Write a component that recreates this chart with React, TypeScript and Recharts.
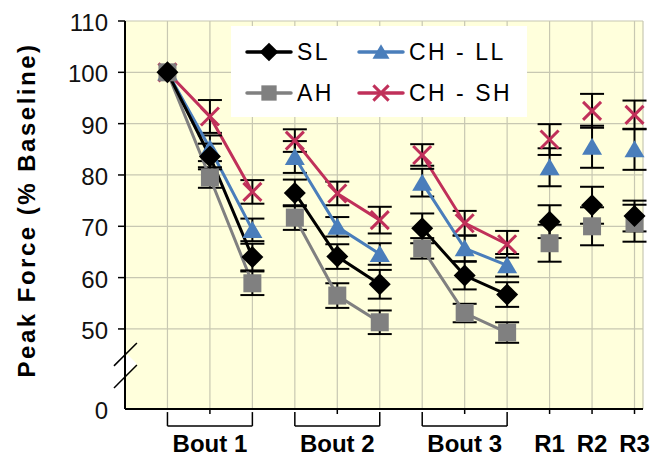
import React from 'react';
import {
  ComposedChart,
  Line,
  XAxis,
  YAxis,
  CartesianGrid,
  ErrorBar,
  ReferenceLine,
  Legend
} from 'recharts';

// x positions 1..12: three points per bout, then three recovery points
const tickLabels = ['', 'Bout 1', '', '', 'Bout 2', '', '', 'Bout 3', '', 'R1', 'R2', 'R3'];
const groups = [1, 1, 1, 2, 2, 2, 3, 3, 3, 4, 5, 6];

const slValues = [100, 83.6, 64.0, 76.5, 64.1, 58.7, 69.6, 60.4, 56.7, 70.9, 74.1, 72.0];
const slErrors = [0, 2.5, 2.6, 2.6, 2.4, 2.8, 2.9, 2.7, 2.4, 3.2, 3.6, 3.0];

const ahValues = [100, 79.5, 58.9, 71.7, 56.5, 51.3, 65.7, 53.1, 49.3, 66.7, 70.0, 70.6];
const ahErrors = [0, 2.0, 2.3, 2.4, 2.4, 2.3, 2.0, 1.8, 2.0, 3.6, 3.7, 3.6];

const llValues = [100, 85.2, 69.3, 83.5, 69.9, 64.6, 78.5, 65.7, 62.4, 81.5, 85.5, 85.0];
const llErrors = [0, 2.5, 2.2, 3.1, 1.9, 2.1, 2.7, 2.5, 2.2, 3.7, 4.1, 4.0];

const shValues = [100, 91.4, 76.7, 86.7, 76.4, 71.2, 83.9, 70.6, 66.5, 86.9, 92.5, 91.7];
const shErrors = [0, 3.2, 2.3, 2.2, 2.3, 2.6, 2.1, 2.4, 2.6, 3.0, 3.3, 2.8];

// value drawn where "0" sits, below the axis break
const Y_ZERO = 34.4;
const yTicks = [Y_ZERO, 50, 60, 70, 80, 90, 100, 110];

type Shape = 'diamond' | 'square' | 'triangle' | 'x';

const series: { key: string; name: string; color: string; shape: Shape; values: number[]; errors: number[] }[] = [
  { key: 'sh', name: 'CH - SH', color: '#C0305A', shape: 'x', values: shValues, errors: shErrors },
  { key: 'll', name: 'CH - LL', color: '#4A7EBB', shape: 'triangle', values: llValues, errors: llErrors },
  { key: 'ah', name: 'AH', color: '#808080', shape: 'square', values: ahValues, errors: ahErrors },
  { key: 'sl', name: 'SL', color: '#000000', shape: 'diamond', values: slValues, errors: slErrors }
];

const FONT = 'Arial, "Liberation Sans", sans-serif';

// gap rows between groups keep the lines from joining
const rows: Record<string, number | null>[] = [];
tickLabels.forEach((_, i) => {
  if (i > 0 && groups[i] !== groups[i - 1]) rows.push({ x: i + 0.5 });
  const row: Record<string, number | null> = { x: i + 1 };
  series.forEach(s => {
    row[s.key] = s.values[i];
    row[s.key + 'Err'] = s.errors[i] ? s.errors[i] : null;
  });
  rows.push(row);
});

const brackets: { start: number; end: number }[] = [];
groups.forEach((g, i) => {
  const last = brackets[brackets.length - 1];
  if (i > 0 && groups[i - 1] === g && last && last.end === i) last.end = i + 1;
  else if (groups.filter(v => v === g).length > 1 && (i === 0 || groups[i - 1] !== g)) brackets.push({ start: i + 1, end: i + 1 });
});

function Marker({ shape, cx, cy, color, scale = 1 }: { shape: Shape; cx: number; cy: number; color: string; scale?: number }) {
  if (cx == null || cy == null || isNaN(cx) || isNaN(cy)) return null;
  if (shape === 'diamond') {
    const h = 11 * scale;
    return <polygon points={`${cx},${cy - h} ${cx + h},${cy} ${cx},${cy + h} ${cx - h},${cy}`} fill={color} />;
  }
  if (shape === 'square') {
    const h = 9 * scale;
    return <rect x={cx - h} y={cy - h} width={h * 2} height={h * 2} fill={color} />;
  }
  if (shape === 'triangle') {
    const w = 10 * scale;
    return <polygon points={`${cx},${cy - 9 * scale} ${cx + w},${cy + 8 * scale} ${cx - w},${cy + 8 * scale}`} fill={color} />;
  }
  const h = 9 * scale;
  return (
    <g stroke={color} strokeWidth={3}>
      <line x1={cx - h} y1={cy - h} x2={cx + h} y2={cy + h} />
      <line x1={cx - h} y1={cy + h} x2={cx + h} y2={cy - h} />
    </g>
  );
}

function BottomTick({ x, y, payload }: any) {
  const label = tickLabels[payload.value - 1];
  if (!label) return <g />;
  return (
    <g>
      <line x1={x} x2={x} y1={y} y2={y + 5} stroke="#000" strokeWidth={1.5} />
      <text x={x} y={y + 43} textAnchor="middle" fontWeight="bold" fontSize={24} fontFamily={FONT} fill="#000">
        {label}
      </text>
    </g>
  );
}

function LeftTick({ x, y, payload }: any) {
  const isZero = payload.value === Y_ZERO;
  return (
    <g>
      {!isZero && <line x1={x - 7} x2={x} y1={y} y2={y} stroke="#000" strokeWidth={1.5} />}
      <text x={x - 17} y={y + 10} textAnchor="end" fontSize={24} fontFamily={FONT} fill="#111">
        {isZero ? '0' : payload.value}
      </text>
    </g>
  );
}

const legendLayout = [
  { key: 'sl', col: 0, row: 0 },
  { key: 'll', col: 1, row: 0 },
  { key: 'ah', col: 0, row: 1 },
  { key: 'sh', col: 1, row: 1 }
];

function LegendBox() {
  return (
    <svg width={296} height={91} style={{ display: 'block' }}>
      <rect x={0} y={0} width={296} height={91} fill="#fff" />
      {legendLayout.map(item => {
        const s = series.find(v => v.key === item.key)!;
        const x0 = item.col === 0 ? 16 : 128;
        const cy = item.row === 0 ? 26 : 67;
        return (
          <g key={item.key}>
            <line x1={x0} x2={x0 + 44} y1={cy} y2={cy} stroke={s.color} strokeWidth={3.5} strokeLinecap="round" />
            <Marker shape={s.shape} cx={x0 + 22} cy={cy} color={s.color} scale={0.85} />
            <text x={x0 + 50} y={cy + 8} fontSize={23} letterSpacing={2.5} fontFamily={FONT} fill="#000">
              {s.name}
            </text>
          </g>
        );
      })}
    </svg>
  );
}

export default function App() {
  return (
    <div style={{ position: 'absolute', left: 0, top: 0 }}>
      <ComposedChart width={651} height={456} data={rows} margin={{ top: 21, right: 8, left: 0, bottom: 0 }}>
        <CartesianGrid fill="#FFFFDC" stroke="#C8C8B2" strokeWidth={1.2} />
        <XAxis
          dataKey="x"
          type="number"
          domain={[0, 12.2]}
          ticks={tickLabels.map((_, i) => i + 1)}
          interval={0}
          height={47}
          tickSize={0}
          tickMargin={0}
          tickLine={false}
          tick={<BottomTick />}
          axisLine={{ stroke: '#000', strokeWidth: 2 }}
        />
        <YAxis
          type="number"
          domain={[Y_ZERO, 110]}
          ticks={yTicks}
          interval={0}
          width={125}
          tickSize={0}
          tickMargin={0}
          tickLine={false}
          tick={<LeftTick />}
          axisLine={{ stroke: '#000', strokeWidth: 2 }}
          label={{
            content: () => (
              <text
                x={35}
                y={210}
                transform="rotate(-90, 35, 210)"
                textAnchor="middle"
                fontWeight="bold"
                fontSize={24}
                letterSpacing={2.5}
                fontFamily={FONT}
                fill="#000"
              >
                Peak Force (% Baseline)
              </text>
            )
          }}
        />
        {/* axis break */}
        <ReferenceLine
          segment={[{ x: -0.21, y: 41.0 }, { x: 0.165, y: 44.15 }]}
          stroke="#fff"
          strokeWidth={13}
          ifOverflow="visible"
        />
        <ReferenceLine
          segment={[{ x: -0.26, y: 42.8 }, { x: 0.28, y: 47.27 }]}
          stroke="#000"
          strokeWidth={1.5}
          ifOverflow="visible"
        />
        <ReferenceLine
          segment={[{ x: -0.26, y: 38.5 }, { x: 0.28, y: 42.98 }]}
          stroke="#000"
          strokeWidth={1.5}
          ifOverflow="visible"
        />
        {/* bout brackets under the axis */}
        {brackets.map(b => (
          <React.Fragment key={b.start}>
            <ReferenceLine segment={[{ x: b.start, y: 33.8 }, { x: b.start, y: 31.1 }]} stroke="#000" strokeWidth={1.5} ifOverflow="visible" />
            <ReferenceLine segment={[{ x: b.end, y: 33.8 }, { x: b.end, y: 31.1 }]} stroke="#000" strokeWidth={1.5} ifOverflow="visible" />
            <ReferenceLine segment={[{ x: b.start, y: 31.1 }, { x: b.end, y: 31.1 }]} stroke="#000" strokeWidth={1.5} ifOverflow="visible" />
          </React.Fragment>
        ))}
        {series.map(s => (
          <Line
            key={s.key}
            dataKey={s.key}
            name={s.name}
            stroke={s.color}
            strokeWidth={3}
            connectNulls={false}
            isAnimationActive={false}
            activeDot={false}
            dot={(p: any) => <Marker key={`${s.key}-${p.index}`} shape={s.shape} cx={p.cx} cy={p.cy} color={s.color} />}
          >
            <ErrorBar dataKey={`${s.key}Err`} width={12} stroke="#000" strokeWidth={2} />
          </Line>
        ))}
        <Legend
          verticalAlign="middle"
          align="center"
          layout="horizontal"
          wrapperStyle={{ left: 231, top: 26, width: 296, height: 91 }}
          content={() => <LegendBox />}
        />
      </ComposedChart>
    </div>
  );
}
